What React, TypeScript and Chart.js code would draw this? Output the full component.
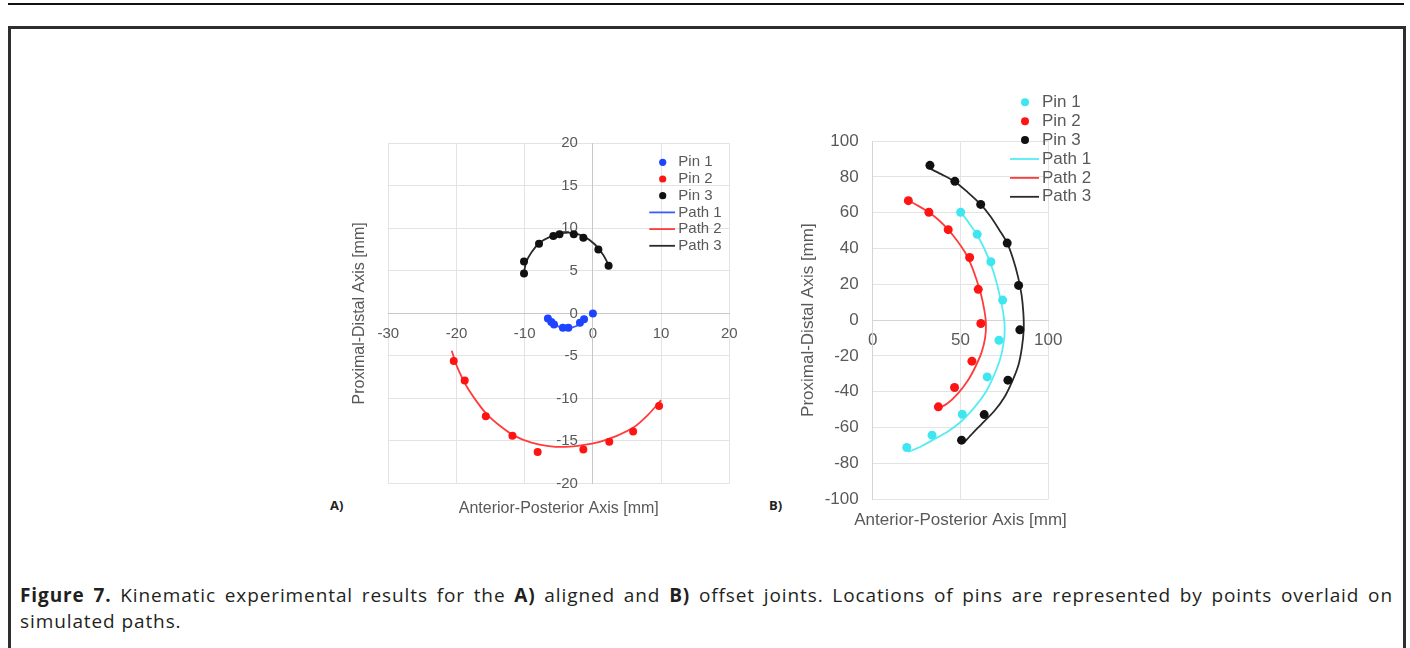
import React, { useEffect, useRef } from 'react';
import { Chart, registerables } from 'chart.js';

Chart.register(...registerables);

type P = { x: number; y: number };
const pt = (x: number, y: number): P => ({ x, y });

// ---------- Panel A (aligned joint) ----------
const pin1A: P[] = [pt(-6.6, -0.6), pt(-6.1, -1.0), pt(-5.7, -1.3), pt(-4.4, -1.7), pt(-3.6, -1.7), pt(-1.9, -1.1), pt(-1.3, -0.7), pt(0, 0)];
const pin2A: P[] = [pt(-20.4, -5.6), pt(-18.8, -7.9), pt(-15.7, -12.1), pt(-11.8, -14.4), pt(-8.1, -16.3), pt(-1.4, -16.0), pt(2.4, -15.1), pt(5.9, -13.9), pt(9.7, -10.9)];
const pin3A: P[] = [pt(-10.1, 4.7), pt(-10.1, 6.1), pt(-7.9, 8.2), pt(-5.8, 9.1), pt(-4.9, 9.3), pt(-2.8, 9.3), pt(-1.4, 8.9), pt(0.8, 7.5), pt(2.3, 5.6)];
const path1A: P[] = [pt(-6.9, -0.3), pt(-6.0, -1.1), pt(-5.0, -1.55), pt(-4.0, -1.75), pt(-3.0, -1.65), pt(-2.0, -1.3), pt(-1.2, -0.8)];
const path2A: P[] = [pt(-20.7, -4.4), pt(-19.8, -6.5), pt(-18.5, -8.6), pt(-17, -10.4), pt(-15.5, -11.9), pt(-13.5, -13.3), pt(-11.5, -14.4), pt(-9, -15.2), pt(-6.5, -15.6), pt(-4, -15.7), pt(-1.5, -15.5), pt(1, -15.1), pt(3.5, -14.4), pt(6, -13.4), pt(8, -12.0), pt(10, -10.2)];
const path3A: P[] = [pt(-10.1, 4.8), pt(-9.8, 6.0), pt(-9, 7.2), pt(-7.8, 8.3), pt(-6.3, 9.0), pt(-4.5, 9.45), pt(-2.8, 9.45), pt(-1.2, 9.0), pt(0.3, 8.1), pt(1.5, 6.9), pt(2.3, 5.7)];

// ---------- Panel B (offset joint) ----------
const pin1B: P[] = [pt(50.1, 60.2), pt(59.5, 47.9), pt(67.3, 32.6), pt(74.0, 11.2), pt(71.9, -11.2), pt(65.2, -31.7), pt(51.0, -52.5), pt(33.8, -64.2), pt(19.4, -71.1)];
const pin2B: P[] = [pt(20.3, 66.7), pt(32.0, 60.2), pt(43.0, 50.5), pt(55.2, 35.0), pt(60.1, 17.2), pt(61.6, -1.9), pt(56.5, -22.9), pt(46.6, -37.6), pt(37.4, -48.4)];
const pin3B: P[] = [pt(32.6, 86.4), pt(46.8, 77.5), pt(61.5, 64.6), pt(76.6, 43.0), pt(83.1, 19.4), pt(83.8, -5.4), pt(77.0, -33.5), pt(63.5, -52.7), pt(50.6, -67.0)];
const path1B: P[] = [pt(50, 60.5), pt(55, 54), pt(59.5, 47.5), pt(63.5, 40), pt(67, 32), pt(70, 23), pt(72.5, 13), pt(74.5, 3), pt(75.2, -5), pt(74.5, -13), pt(72.5, -22), pt(69, -31), pt(64.5, -40), pt(58.5, -48), pt(51, -56), pt(43, -62), pt(35, -66.5), pt(27.5, -70.5), pt(20.3, -73.6)];
const path2B: P[] = [pt(20.3, 66.7), pt(26, 63.8), pt(32, 60.2), pt(38, 55.5), pt(43, 50.5), pt(48, 44.5), pt(52.5, 38), pt(56, 31), pt(59, 23), pt(61.5, 15), pt(63.5, 6), pt(64.5, -2), pt(64, -10), pt(62, -18), pt(58.5, -26), pt(54, -34), pt(48.5, -41), pt(42.5, -46.5), pt(36, -50)];
const path3B: P[] = [pt(30.7, 85.6), pt(39, 81.5), pt(46.8, 77.3), pt(54, 71.5), pt(61.5, 64.6), pt(67, 58), pt(72, 50.5), pt(76.6, 43), pt(80, 34), pt(82.8, 24), pt(84.8, 14), pt(85.8, 4), pt(86, -5), pt(85, -15), pt(83, -25), pt(79.5, -34), pt(75, -43), pt(69, -51), pt(62, -58), pt(57, -63), pt(52, -68.3)];

const seriesLabels = ['Pin 1', 'Pin 2', 'Pin 3', 'Path 1', 'Path 2', 'Path 3'];
const xTitle = 'Anterior-Posterior Axis [mm]';
const yTitle = 'Proximal-Distal Axis [mm]';

const FONT = '"Liberation Sans", Arial, sans-serif';
const TXT = '#595959';
const GRID = '#e3e3e3';

Chart.defaults.font.family = FONT;

const legendPlugin = {
  id: 'sideLegend',
  afterLayout(chart: any, _a: any, opts: any) {
    // let the axis title run wider than the plot area
    const s = chart.scales.xt;
    if (s && opts.titleGrow) {
      s.left -= opts.titleGrow;
      s.right += opts.titleGrow;
      s.width = s.right - s.left;
    }
  },
  afterDraw(chart: any, _a: any, opts: any) {
    const ctx = chart.ctx;
    ctx.save();
    ctx.font = `${opts.size}px ${FONT}`;
    ctx.textBaseline = 'middle';
    ctx.textAlign = 'left';
    chart.data.datasets.forEach((ds: any, i: number) => {
      const y = opts.y + i * opts.rowH;
      if (ds.showLine) {
        ctx.strokeStyle = ds.borderColor;
        ctx.lineWidth = ds.borderWidth;
        ctx.beginPath();
        ctx.moveTo(opts.lineX0, y);
        ctx.lineTo(opts.lineX1, y);
        ctx.stroke();
      } else {
        ctx.fillStyle = ds.backgroundColor;
        ctx.beginPath();
        ctx.arc(opts.dotX, y, opts.dotR, 0, Math.PI * 2);
        ctx.fill();
      }
      ctx.fillStyle = TXT;
      ctx.fillText(ds.label, opts.textX, y);
    });
    ctx.restore();
  },
};

const fix = (w?: number, h?: number) => (s: any) => {
  if (w !== undefined) s.width = w;
  if (h !== undefined) s.height = h;
  s.paddingLeft = 0;
  s.paddingRight = 0;
  s.paddingTop = 0;
  s.paddingBottom = 0;
};

function pins(data: P[][], colors: string[], r: number) {
  return data.map((d, i) => ({
    label: seriesLabels[i],
    data: d,
    showLine: false,
    backgroundColor: colors[i],
    borderColor: colors[i],
    pointRadius: r,
    pointBorderWidth: 0,
  }));
}
function paths(data: P[][], colors: string[]) {
  return data.map((d, i) => ({
    label: seriesLabels[i + 3],
    data: d,
    showLine: true,
    borderColor: colors[i],
    backgroundColor: colors[i],
    borderWidth: 1.8,
    pointRadius: 0,
    tension: 0.3,
    fill: false,
  }));
}

function titleAxis(axis: 'x' | 'y', pos: string, min: number, max: number, text: string, size: number, w?: number, h?: number, weight = 1) {
  return {
    type: 'linear',
    axis,
    position: pos,
    min,
    max,
    weight,
    ticks: { display: false },
    grid: { display: false, drawTicks: false },
    border: { display: false },
    title: { display: true, text, color: TXT, font: { size }, padding: 0 },
    afterFit: fix(w, h),
  };
}

function buildA(canvas: HTMLCanvasElement) {
  return new Chart(canvas, {
    type: 'scatter',
    data: {
      datasets: [
        ...pins([pin1A, pin2A, pin3A], ['#1f44ff', '#ff1414', '#111111'], 4),
        ...paths([path1A, path2A, path3A], ['#3a5cff', '#ff3b3b', '#2a2a2a']),
      ] as any,
    },
    options: {
      responsive: false,
      animation: false,
      layout: { autoPadding: false, padding: { top: 13.3, right: 15.7, left: 0, bottom: 0 } },
      plugins: {
        legend: { display: false },
        tooltip: { enabled: false },
        sideLegend: { size: 15, y: 32.3, rowH: 16.7, dotX: 312.7, dotR: 3.6, lineX0: 299.3, lineX1: 325, textX: 328.3, titleGrow: 0 },
      } as any,
      scales: {
        x: {
          type: 'linear',
          position: { y: 0 },
          min: -30,
          max: 20,
          ticks: { stepSize: 10, padding: 11.6, color: TXT, font: { size: 15 } },
          grid: { color: GRID, drawTicks: false },
          border: { color: '#c8c8c8' },
          afterFit: fix(undefined, 0),
        },
        y: {
          type: 'linear',
          position: { x: 0 },
          min: -20,
          max: 20,
          ticks: {
            stepSize: 5,
            color: TXT,
            font: { size: 15 },
            // labels sit right-aligned on the x = 0 axis; trailing gap keeps them off the line
            callback: (v: any) => `${v}\u2002\u2002`,
          },
          grid: { color: GRID, drawTicks: false },
          border: { color: '#c8c8c8' },
          afterFit: fix(0, undefined),
        },
        xt: titleAxis('x', 'bottom', -30, 20, xTitle, 16, undefined, 34.5),
        yt: titleAxis('y', 'left', -20, 20, yTitle, 16, 38.3, undefined),
      } as any,
    },
    plugins: [legendPlugin],
  } as any);
}

function buildB(canvas: HTMLCanvasElement) {
  return new Chart(canvas, {
    type: 'scatter',
    data: {
      datasets: [
        ...pins([pin1B, pin2B, pin3B], ['#3fe6f0', '#ff1414', '#111111'], 4.5),
        ...paths([path1B, path2B, path3B], ['#55ecf4', '#ff3b3b', '#2a2a2a']),
      ] as any,
    },
    options: {
      responsive: false,
      animation: false,
      layout: { autoPadding: false, padding: { top: 56, right: 51.7, left: 0, bottom: 0 } },
      plugins: {
        legend: { display: false },
        tooltip: { enabled: false },
        sideLegend: { size: 17, y: 17.3, rowH: 18.9, dotX: 227, dotR: 4, lineX0: 212, lineX1: 241, textX: 244, titleGrow: 45 },
      } as any,
      scales: {
        x: {
          type: 'linear',
          position: { y: 0 },
          min: 0,
          max: 100,
          ticks: { stepSize: 50, padding: 9.8, color: TXT, font: { size: 17 } },
          grid: { color: GRID, drawTicks: false },
          border: { color: '#d4d4d4' },
          afterFit: fix(undefined, 0),
        },
        y: {
          type: 'linear',
          position: 'left',
          weight: 0,
          min: -100,
          max: 100,
          ticks: { stepSize: 20, padding: 14, color: TXT, font: { size: 17 } },
          grid: { color: GRID, drawTicks: false },
          border: { color: '#d4d4d4' },
          afterFit: fix(52.7, undefined),
        },
        xt: titleAxis('x', 'bottom', 0, 100, xTitle, 17, undefined, 31.7),
        yt: titleAxis('y', 'left', -100, 100, yTitle, 17, 22, undefined, 5),
      } as any,
    },
    plugins: [legendPlugin],
  } as any);
}

const abs = (left: number, top: number, extra: React.CSSProperties = {}): React.CSSProperties => ({
  position: 'absolute',
  left,
  top,
  ...extra,
});

export default function App() {
  const refA = useRef<HTMLCanvasElement>(null);
  const refB = useRef<HTMLCanvasElement>(null);

  useEffect(() => {
    const a = buildA(refA.current!);
    const b = buildB(refB.current!);
    return () => {
      a.destroy();
      b.destroy();
    };
  }, []);

  const capFont = '"Open Sans", "Noto Sans", sans-serif';
  const capStyle: React.CSSProperties = {
    font: `19px ${capFont}`,
    color: '#231f20',
    lineHeight: '26px',
    whiteSpace: 'nowrap',
    letterSpacing: '0.9px',
  };

  return (
    <div style={{ position: 'absolute', left: 0, top: 0, width: 1410, height: 648, overflow: 'hidden', background: '#fff' }}>
      <div style={abs(8, 2.5, { width: 1396, height: 2.5, background: '#111' })} />
      <div style={abs(8, 26, { width: 1392, height: 700, border: '3px solid #2e2e2e' })} />

      <canvas ref={refA} width={395} height={388} style={abs(350, 130, { width: 395, height: 388 })} />
      <canvas ref={refB} width={302} height={446} style={abs(798, 85, { width: 302, height: 446 })} />

      <div style={abs(330, 496, { font: `bold 13px ${capFont}`, color: '#222' })}>A)</div>
      <div style={abs(769, 496, { font: `bold 13px ${capFont}`, color: '#222' })}>B)</div>

      <div style={abs(20, 582, { ...capStyle, width: 1373, whiteSpace: 'normal', textAlign: 'justify', textAlignLast: 'justify' })}>
        <b>Figure 7.</b> Kinematic experimental results for the <b>A)</b> aligned and <b>B)</b> offset joints. Locations of pins are represented by points overlaid on
      </div>
      <div style={abs(20, 608, capStyle)}>simulated paths.</div>
    </div>
  );
}
